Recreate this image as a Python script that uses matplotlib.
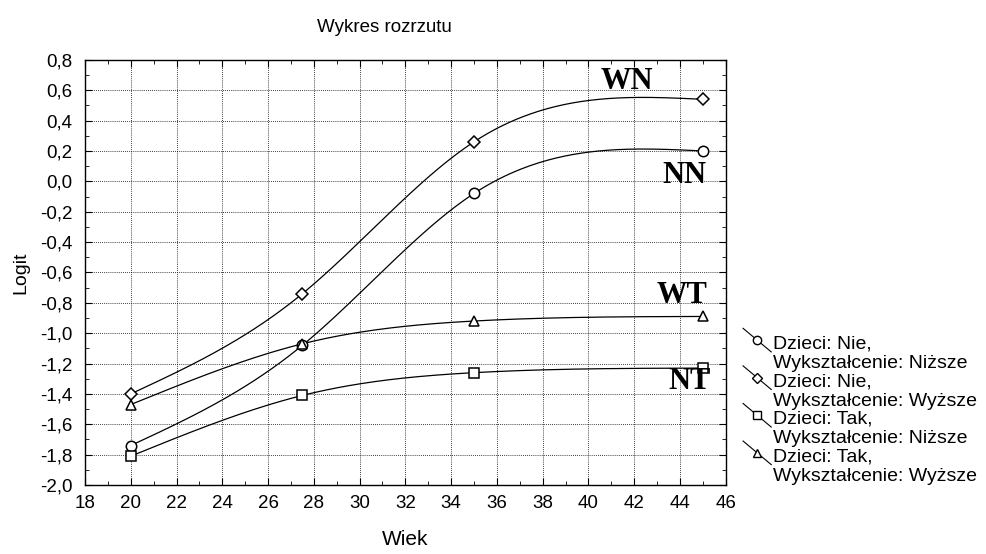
import matplotlib
matplotlib.use("Agg")
import matplotlib.pyplot as plt
import numpy as np
from matplotlib.lines import Line2D
from matplotlib.legend_handler import HandlerBase
from matplotlib.ticker import MultipleLocator, FuncFormatter

# ========================================================================
# data
wiek = [20, 27.5, 35, 45]
nn = [-1.74, -1.08, -0.08, 0.20]   # Dzieci: Nie, Niższe
wn = [-1.40, -0.74, 0.26, 0.54]    # Dzieci: Nie, Wyższe
nt = [-1.81, -1.41, -1.26, -1.23]  # Dzieci: Tak, Niższe
wt = [-1.47, -1.07, -0.92, -0.89]  # Dzieci: Tak, Wyższe

labels = ["Dzieci: Nie,\nWykształcenie: Niższe",
          "Dzieci: Nie,\nWykształcenie: Wyższe",
          "Dzieci: Tak,\nWykształcenie: Niższe",
          "Dzieci: Tak,\nWykształcenie: Wyższe"]
markers = ["o", "D", "s", "^"]
tags = ["NN", "WN", "NT", "WT"]
tag_pos = [(44.2, 0.04), (41.7, 0.66), (44.4, -1.32), (44.1, -0.75)]

plt.rcParams["font.family"] = ["Liberation Sans", "DejaVu Sans"]

LEG_FS = 14


def natural_spline(x, y, n=200):
    # smooth curve through the points, like the original program draws
    x = np.asarray(x, float)
    y = np.asarray(y, float)
    k = len(x)
    h = np.diff(x)
    A = np.zeros((k, k))
    b = np.zeros(k)
    A[0, 0] = 1
    A[-1, -1] = 1
    for i in range(1, k - 1):
        A[i, i - 1] = h[i - 1]
        A[i, i] = 2 * (h[i - 1] + h[i])
        A[i, i + 1] = h[i]
        b[i] = 6 * ((y[i + 1] - y[i]) / h[i] - (y[i] - y[i - 1]) / h[i - 1])
    M = np.linalg.solve(A, b)
    xs = np.linspace(x[0], x[-1], n)
    j = np.clip(np.searchsorted(x, xs) - 1, 0, k - 2)
    t1 = x[j + 1] - xs
    t2 = xs - x[j]
    hj = h[j]
    ys = (M[j] * t1 ** 3 + M[j + 1] * t2 ** 3) / (6 * hj) \
        + (y[j] / hj - M[j] * hj / 6) * t1 + (y[j + 1] / hj - M[j + 1] * hj / 6) * t2
    return xs, ys


class SlantHandler(HandlerBase):
    # legend key: a slanted line with the marker on it, next to the first text line
    def create_artists(self, legend, orig, xdescent, ydescent, width, height, fontsize, trans):
        c = height / 2 - ydescent + fontsize * 0.7   # middle of the first text line
        x0 = -xdescent
        x1 = width - xdescent
        line = Line2D([x0, x1], [c + 8.5, c - 8.5], color="black", lw=0.8, transform=trans)
        mk = Line2D([(x0 + x1) / 2], [c],
                    marker=orig.get_marker(), markersize=orig.get_markersize() * 0.8,
                    markerfacecolor="white", markeredgecolor="black",
                    markeredgewidth=1.0, transform=trans)
        return [line, mk]


def main():
    fig = plt.figure(figsize=(9.86, 5.54), dpi=100)
    ax = fig.add_axes([0.0862, 0.1245, 0.6498, 0.7675])

    series = [nn, wn, nt, wt]
    handles = []
    for s, m in zip(series, markers):
        xs, ys = natural_spline(wiek, s)
        ax.plot(xs, ys, color="black", lw=0.9, zorder=2)
        ms = 6 if m == "D" else 7.5
        h, = ax.plot(wiek, s, linestyle="none", marker=m, markersize=ms,
                     markerfacecolor="white", markeredgecolor="black",
                     markeredgewidth=1.1, zorder=3)
        handles.append(h)

    for t, (tx, ty) in zip(tags, tag_pos):
        ax.text(tx, ty, t, ha="center", va="center", fontsize=22,
                fontweight="bold", family=["Liberation Serif", "DejaVu Serif"])

    ax.set_xlim(18, 46)
    ax.set_ylim(-2.0, 0.8)
    ax.xaxis.set_major_locator(MultipleLocator(2))
    ax.xaxis.set_minor_locator(MultipleLocator(1))
    ax.yaxis.set_major_locator(MultipleLocator(0.2))
    ax.yaxis.set_minor_locator(MultipleLocator(0.1))
    ax.yaxis.set_major_formatter(FuncFormatter(lambda v, p: ("%.1f" % v).replace(".", ",").replace("-0,0", "0,0")))
    ax.tick_params(which="both", direction="in", top=True, right=True, labelsize=13.5)
    ax.tick_params(axis="y", pad=9)
    ax.tick_params(axis="x", pad=7)
    ax.tick_params(which="major", length=5)
    ax.tick_params(which="minor", length=3)
    ax.grid(True, which="major", linestyle=(0, (1, 1.5)), color="black", lw=0.6)
    for sp in ax.spines.values():
        sp.set_linewidth(1.0)

    ax.set_xlabel("Wiek", fontsize=15, labelpad=13)
    ax.set_ylabel("Logit", fontsize=14, labelpad=8)
    fig.text(0.3895, 0.9495, "Wykres rozrzutu", ha="center", va="center", fontsize=13.5)

    fig.legend(handles, labels, handler_map={Line2D: SlantHandler()},
               loc="upper left", bbox_to_anchor=(0.7536, 0.394), frameon=False,
               fontsize=LEG_FS, handlelength=1.45, handletextpad=0.1,
               labelspacing=0.05, borderaxespad=0, borderpad=0)

    fig.savefig("out.png", dpi=100)


if __name__ == "__main__":
    main()
